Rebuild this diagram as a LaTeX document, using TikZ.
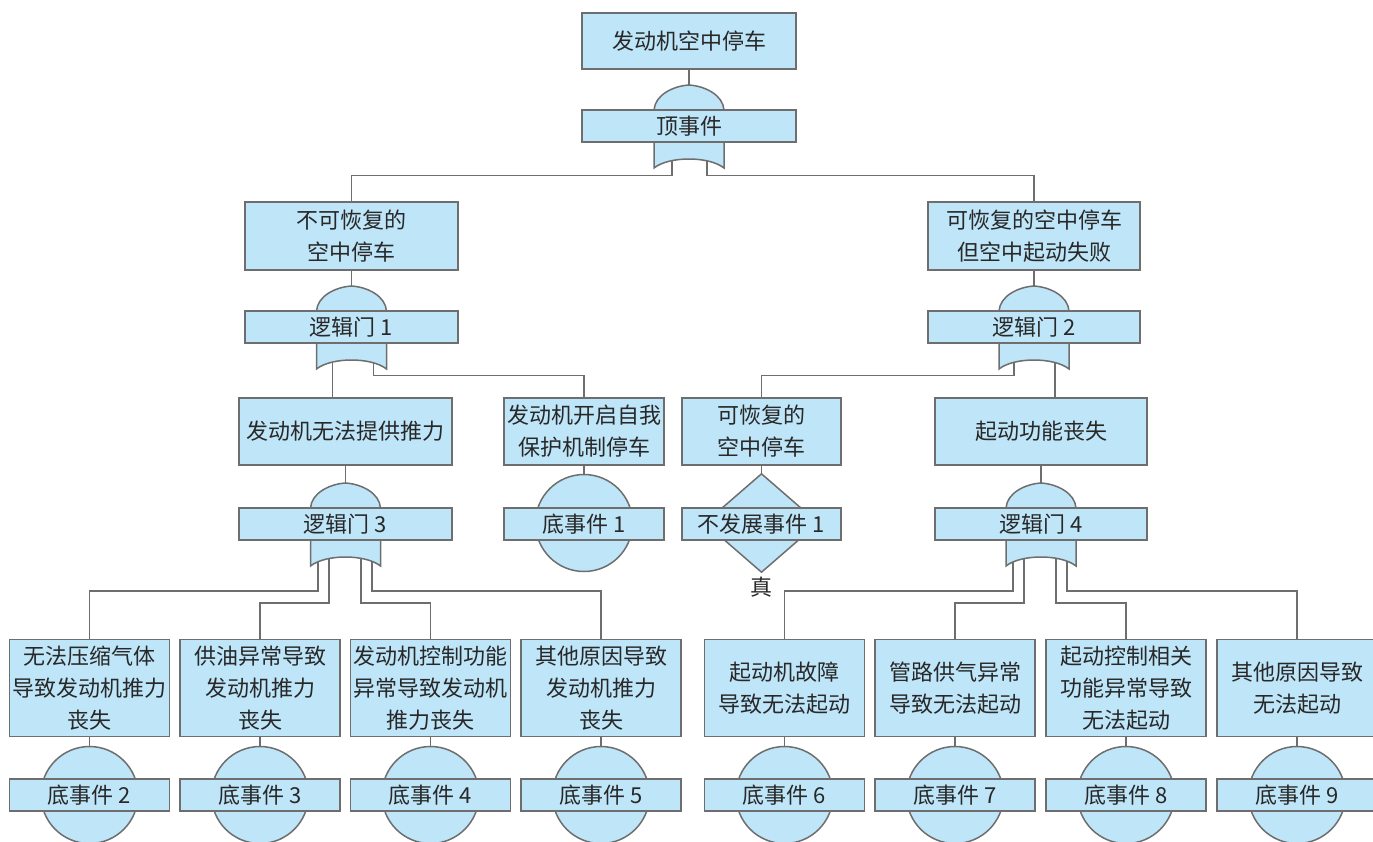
\documentclass[tikz,border=0pt]{standalone}
\usepackage{fontspec}
\setmainfont{Noto Sans CJK SC}
\usetikzlibrary{shapes.geometric,backgrounds,calc}

\definecolor{evfill}{RGB}{190,229,248}
\definecolor{evline}{RGB}{110,110,110}
\definecolor{evtext}{RGB}{40,40,40}

\begin{document}
\begin{tikzpicture}[x=1pt, y=-1pt, font=\fontsize{22}{32}\selectfont, shp/.style={draw=evline, fill=evfill, line width=1.5pt}, evt/.style={shp, align=center, inner sep=1pt, text=evtext}, band/.style={evt, minimum height=32pt}, basic/.style={shp, circle, minimum size=97pt, inner sep=0pt}, undev/.style={shp, diamond, minimum width=114pt, minimum height=99pt, inner sep=0pt}, link/.style={draw=evline, line width=1.5pt}, orgate/.pic={\path[shp] (-35,-16) .. controls (-34,-31) and (-16,-40) .. (0,-41) .. controls (16,-40) and (34,-31) .. (35,-16) -- (35,42) .. controls (20,30) and (-20,30) .. (-35,42) -- cycle;}]
\useasboundingbox (0,0) rectangle (1373,841);
% top event
\node[evt, minimum width=214pt, minimum height=56pt] (top) at (689,41) {发动机空中停车};
\pic at (689,126) {orgate};
\node[band, minimum width=214pt] (g0) at (689,126) {顶事件};
% second level
\node[evt, minimum width=213pt, minimum height=68pt] (nr) at (351.5,236) {不可恢复的\\空中停车};
\node[evt, minimum width=212pt, minimum height=68pt] (rf) at (1034,236) {可恢复的空中停车\\但空中起动失败};
\pic at (351.5,327) {orgate};
\node[band, minimum width=213pt] (g1) at (351.5,327) {逻辑门 1};
\pic at (1034,327) {orgate};
\node[band, minimum width=212pt] (g2) at (1034,327) {逻辑门 2};
% third level
\node[evt, minimum width=213pt, minimum height=67pt] (thr) at (345.5,431.5) {发动机无法提供推力};
\node[evt, minimum width=160pt, minimum height=67pt] (prot) at (584,431.5) {发动机开启自我\\保护机制停车};
\node[evt, minimum width=159pt, minimum height=67pt] (rec) at (761.5,431.5) {可恢复的\\空中停车};
\node[evt, minimum width=212pt, minimum height=67pt] (stf) at (1041,431.5) {起动功能丧失};
\pic at (345.5,524) {orgate};
\node[band, minimum width=213pt] (g3) at (345.5,524) {逻辑门 3};
\node[basic] (cb1) at (584,523) {};
\node[band, minimum width=160pt] (be1) at (584,524) {底事件 1};
\node[undev] (dm1) at (761.5,523) {};
\node[band, minimum width=159pt] (ue1) at (761.5,524) {不发展事件 1};
\node[text=evtext] (tru) at (761.5,587) {真};
\pic at (1041,524) {orgate};
\node[band, minimum width=212pt] (g4) at (1041,524) {逻辑门 4};
% bottom events
\foreach \n/\x/\txt in {2/89.5/{无法压缩气体\\导致发动机推力\\丧失}, 3/260/{供油异常导致\\发动机推力\\丧失}, 4/430.5/{发动机控制功能\\异常导致发动机\\推力丧失}, 5/601/{其他原因导致\\发动机推力\\丧失}, 6/784.5/{起动机故障\\导致无法起动}, 7/955/{管路供气异常\\导致无法起动}, 8/1126/{起动控制相关\\功能异常导致\\无法起动}, 9/1297/{其他原因导致\\无法起动}} {
  \node[evt, minimum width=160pt, minimum height=97pt] (ev\n) at (\x,688) {\txt};
  \node[basic] (cb\n) at (\x,795) {};
  \node[band, minimum width=160pt] (be\n) at (\x,795) {底事件 \n};
}
% connectors
\begin{scope}[on background layer]
\draw[link] (top) -- (g0);
\draw[link] ([xshift=-17pt]g0.south) |- ([yshift=26pt]nr.north) -- (nr.north);
\draw[link] ([xshift=18pt]g0.south) |- ([yshift=26pt]rf.north) -- (rf.north);
\draw[link] (nr) -- (g1);
\draw[link] (rf) -- (g2);
\draw[link] ([xshift=-19pt]g1.south) -- ([xshift=-19pt]g1.south |- thr.north);
\draw[link] ([xshift=22pt]g1.south) |- ([yshift=22pt]prot.north) -- (prot.north);
\draw[link] ([xshift=-20pt]g2.south) |- ([yshift=22pt]rec.north) -- (rec.north);
\draw[link] ([xshift=21pt]g2.south) -- ([xshift=21pt]g2.south |- stf.north);
\draw[link] (thr) -- (g3);
\draw[link] (prot) -- (be1);
\draw[link] (rec) -- (ue1);
\draw[link] (stf) -- (g4);
\foreach \dx/\n/\h in {-27.5/2/48, -16.5/3/36, 15.5/4/36, 26.5/5/48}
  \draw[link] ([xshift=\dx pt]g3.south) |- ([yshift=\h pt]ev\n.north) -- (ev\n.north);
\foreach \dx/\n/\h in {-28/6/48, -17/7/36, 15/8/36, 26/9/48}
  \draw[link] ([xshift=\dx pt]g4.south) |- ([yshift=\h pt]ev\n.north) -- (ev\n.north);
\foreach \n in {2,...,9}
  \draw[link] (ev\n) -- (be\n);
\end{scope}
\end{tikzpicture}
\end{document}
